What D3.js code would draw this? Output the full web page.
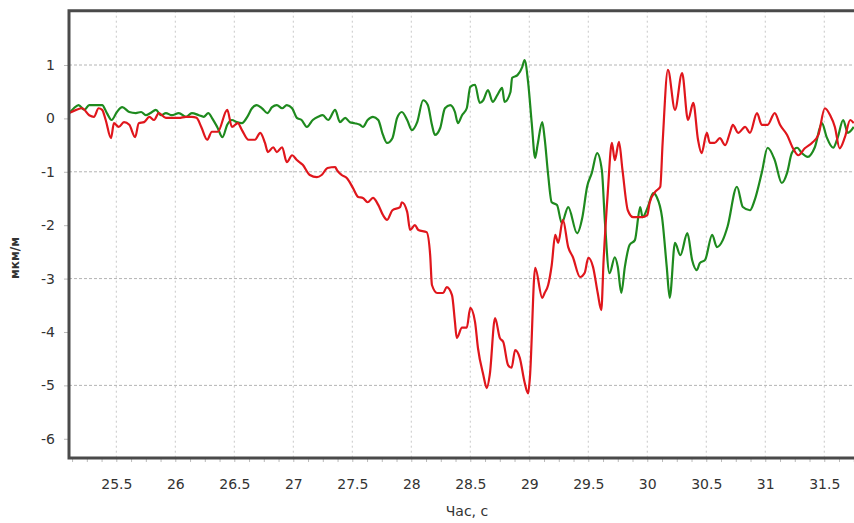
<!DOCTYPE html>
<html>
<head>
<meta charset="utf-8">
<script src="https://cdn.jsdelivr.net/npm/d3@7/dist/d3.min.js"></script>
<style>
    html, body { margin: 0; padding: 0; background: #fff; }
    svg { display: block; }
    .tick-label { font-family: "DejaVu Sans", sans-serif; font-size: 14px; fill: #333; }
    .axis-title { font-family: "DejaVu Sans", sans-serif; font-size: 14px; fill: #333; }
    .y-title { font-family: "DejaVu Sans", sans-serif; font-size: 12px; font-weight: bold; fill: #333; }
</style>
</head>
<body>
<div id="chart"></div>
<script>
// --- Data (time in s, strain in мкм/м) ---
var redTime = [25.10, 25.16, 25.21, 25.27, 25.31, 25.35, 25.38, 25.41, 25.455, 25.48,
    25.52, 25.565, 25.61, 25.66, 25.69, 25.735, 25.78, 25.82, 25.86, 25.92,
    25.97, 26.03, 26.09, 26.14, 26.18, 26.22, 26.27, 26.31, 26.36, 26.44,
    26.48, 26.53, 26.565, 26.62, 26.675, 26.72, 26.76, 26.785, 26.83, 26.86,
    26.905, 26.945, 26.99, 27.03, 27.08, 27.14, 27.20, 27.24, 27.29, 27.355,
    27.37, 27.41, 27.455, 27.505, 27.55, 27.59, 27.63, 27.675, 27.72, 27.76,
    27.795, 27.84, 27.905, 27.92, 27.965, 27.99, 28.03, 28.06, 28.13, 28.16,
    28.175, 28.22, 28.27, 28.30, 28.345, 28.37, 28.385, 28.43, 28.47, 28.50,
    28.54, 28.565, 28.61, 28.64, 28.665, 28.71, 28.75, 28.78, 28.82, 28.85,
    28.88, 28.92, 28.96, 28.99, 29.005, 29.05, 29.11, 29.13, 29.16, 29.19,
    29.22, 29.245, 29.285, 29.33, 29.37, 29.43, 29.47, 29.50, 29.54, 29.58,
    29.61, 29.63, 29.665, 29.70, 29.725, 29.76, 29.79, 29.835, 29.88, 29.955,
    30.00, 30.02, 30.065, 30.11, 30.13, 30.175, 30.235, 30.295, 30.345, 30.39,
    30.43, 30.46, 30.505, 30.53, 30.57, 30.615, 30.66, 30.70, 30.725, 30.77,
    30.83, 30.87, 30.93, 30.97, 31.02, 31.08, 31.125, 31.185, 31.235, 31.28,
    31.335, 31.395, 31.45, 31.505, 31.55, 31.59, 31.63, 31.675, 31.72, 31.75];
var redValue = [0.10, 0.16, 0.19, 0.06, 0.03, 0.19, 0.16, -0.03, -0.37, -0.09,
    -0.16, -0.07, -0.12, -0.35, -0.09, -0.07, 0.03, -0.03, 0.10, 0.01,
    0.01, 0.01, 0.03, 0.03, 0.01, -0.16, -0.40, -0.25, -0.25, 0.16,
    -0.16, -0.09, -0.22, -0.40, -0.40, -0.27, -0.46, -0.63, -0.54, -0.63,
    -0.54, -0.82, -0.69, -0.78, -0.87, -1.06, -1.10, -1.06, -0.93, -0.91,
    -0.97, -1.06, -1.12, -1.30, -1.47, -1.49, -1.57, -1.49, -1.62, -1.81,
    -1.90, -1.72, -1.66, -1.57, -1.75, -2.09, -2.00, -2.09, -2.13, -2.56,
    -3.12, -3.27, -3.27, -3.16, -3.31, -3.81, -4.11, -3.92, -3.92, -3.55,
    -3.81, -4.30, -4.80, -5.05, -4.80, -3.74, -4.11, -4.19, -4.62, -4.67,
    -4.34, -4.49, -4.94, -5.15, -4.86, -2.80, -3.36, -3.27, -3.12, -2.75,
    -2.18, -2.33, -1.90, -2.41, -2.60, -2.97, -2.89, -2.61, -2.78, -3.27,
    -3.59, -2.65, -1.40, -0.46, -0.78, -0.44, -0.97, -1.72, -1.85, -1.85,
    -1.81, -1.58, -1.38, -1.28, -0.46, 0.91, 0.16, 0.85, -0.03, 0.29,
    -0.40, -0.65, -0.27, -0.46, -0.46, -0.37, -0.50, -0.27, -0.12, -0.27,
    -0.16, -0.27, 0.10, -0.12, -0.12, 0.10, -0.12, -0.31, -0.56, -0.69,
    -0.56, -0.46, -0.31, 0.19, 0.06, -0.16, -0.56, -0.35, -0.03, -0.09];

var greenTime = [25.10, 25.14, 25.18, 25.23, 25.27, 25.33, 25.38, 25.42, 25.46, 25.505,
    25.55, 25.61, 25.665, 25.71, 25.75, 25.79, 25.835, 25.88, 25.92, 25.97,
    26.03, 26.09, 26.14, 26.20, 26.24, 26.28, 26.31, 26.355, 26.40, 26.44,
    26.48, 26.52, 26.565, 26.61, 26.65, 26.69, 26.735, 26.78, 26.82, 26.86,
    26.905, 26.945, 26.99, 27.03, 27.07, 27.115, 27.165, 27.21, 27.25, 27.295,
    27.355, 27.395, 27.44, 27.48, 27.52, 27.565, 27.59, 27.63, 27.675, 27.72,
    27.76, 27.795, 27.84, 27.88, 27.92, 27.965, 28.005, 28.05, 28.10, 28.14,
    28.175, 28.20, 28.245, 28.285, 28.33, 28.37, 28.395, 28.43, 28.47, 28.50,
    28.54, 28.58, 28.61, 28.65, 28.69, 28.73, 28.77, 28.79, 28.84, 28.855,
    28.90, 28.94, 28.96, 28.99, 29.02, 29.05, 29.07, 29.11, 29.13, 29.16,
    29.19, 29.235, 29.275, 29.33, 29.405, 29.45, 29.49, 29.53, 29.575, 29.615,
    29.64, 29.68, 29.725, 29.75, 29.78, 29.81, 29.85, 29.895, 29.94, 29.96,
    30.005, 30.05, 30.08, 30.125, 30.165, 30.19, 30.235, 30.28, 30.34, 30.38,
    30.42, 30.445, 30.49, 30.55, 30.59, 30.64, 30.68, 30.76, 30.81, 30.87,
    30.91, 30.97, 31.02, 31.08, 31.14, 31.185, 31.225, 31.27, 31.31, 31.36,
    31.42, 31.48, 31.52, 31.575, 31.615, 31.66, 31.70, 31.75];
var greenValue = [0.10, 0.19, 0.25, 0.16, 0.25, 0.25, 0.25, 0.10, -0.03, 0.12,
    0.21, 0.12, 0.10, 0.12, 0.06, 0.10, 0.16, 0.06, 0.10, 0.06,
    0.10, 0.03, 0.10, 0.06, 0.03, 0.10, 0.01, -0.16, -0.35, -0.12,
    -0.03, -0.07, -0.09, 0.03, 0.19, 0.25, 0.19, 0.10, 0.21, 0.25,
    0.19, 0.25, 0.19, 0.01, -0.03, -0.16, -0.03, 0.03, 0.06, -0.03,
    0.16, -0.07, 0.01, -0.07, -0.09, -0.12, -0.16, -0.03, 0.03, -0.03,
    -0.31, -0.46, -0.37, 0.01, 0.12, -0.03, -0.22, -0.07, 0.34, 0.25,
    -0.12, -0.31, -0.18, 0.19, 0.25, 0.12, -0.09, 0.06, 0.19, 0.59,
    0.63, 0.29, 0.34, 0.53, 0.31, 0.44, 0.57, 0.31, 0.49, 0.76,
    0.81, 0.96, 1.09, 0.68, -0.07, -0.74, -0.50, -0.07, -0.37, -1.06,
    -1.57, -1.62, -1.96, -1.66, -2.15, -1.85, -1.28, -1.02, -0.65, -0.97,
    -1.90, -2.90, -2.60, -2.78, -3.27, -2.78, -2.37, -2.28, -1.66, -1.85,
    -1.66, -1.40, -1.47, -1.85, -2.78, -3.36, -2.33, -2.56, -2.15, -2.65,
    -2.84, -2.71, -2.65, -2.18, -2.41, -2.28, -2.03, -1.28, -1.66, -1.72,
    -1.53, -1.02, -0.55, -0.78, -1.21, -1.02, -0.65, -0.55, -0.65, -0.72,
    -0.54, -0.09, -0.35, -0.55, -0.35, -0.03, -0.27, -0.16];

// --- Axis ticks ---
var xTicks = [25.5, 26, 26.5, 27, 27.5, 28, 28.5, 29, 29.5, 30, 30.5, 31, 31.5];
var yTicks = [1, 0, -1, -2, -3, -4, -5, -6];
var yGridTicks = [1, -1, -3, -5];
var xDomain = [25.099, 31.752];
var yDomain = [2.017, -6.36];

(function () {
    "use strict";

    var W = 854, H = 523;
    var left = 69, top = 10.7, right = 854, bottom = 458;

    var svg = d3.select("#chart").append("svg")
        .attr("width", W)
        .attr("height", H);

    var x = d3.scaleLinear().domain(xDomain).range([left, right]);
    var y = d3.scaleLinear().domain(yDomain).range([top, bottom]);

    // plain "26", "-1" labels, like the source chart
    var plain = function (d) { return String(d); };

    // Clip for the plotted lines
    svg.append("clipPath").attr("id", "plot-clip")
        .append("rect")
        .attr("x", left).attr("y", top)
        .attr("width", right - left).attr("height", bottom - top);

    // --- Grid ---
    svg.append("g").selectAll("line")
        .data(xTicks)
        .enter().append("line")
        .attr("x1", function (d) { return x(d); })
        .attr("x2", function (d) { return x(d); })
        .attr("y1", top).attr("y2", bottom)
        .attr("stroke", "#c8c8c8")
        .attr("stroke-width", 1)
        .attr("stroke-dasharray", "2,3");

    svg.append("g").selectAll("line")
        .data(yGridTicks)
        .enter().append("line")
        .attr("x1", left).attr("x2", right)
        .attr("y1", function (d) { return y(d); })
        .attr("y2", function (d) { return y(d); })
        .attr("stroke", "#b4b4b4")
        .attr("stroke-width", 1)
        .attr("stroke-dasharray", "3,2");

    // --- Series ---
    var line = d3.line()
        .x(function (d) { return x(d[0]); })
        .y(function (d) { return y(d[1]); })
        .curve(d3.curveMonotoneX);

    function series(times, values) {
        return times.map(function (t, i) { return [t, values[i]]; });
    }

    var plot = svg.append("g").attr("clip-path", "url(#plot-clip)");

    plot.append("path")
        .datum(series(greenTime, greenValue))
        .attr("d", line)
        .attr("fill", "none")
        .attr("stroke", "#1e8a1e")
        .attr("stroke-width", 2.2)
        .attr("stroke-linejoin", "round");

    plot.append("path")
        .datum(series(redTime, redValue))
        .attr("d", line)
        .attr("fill", "none")
        .attr("stroke", "#e0161c")
        .attr("stroke-width", 2.2)
        .attr("stroke-linejoin", "round");

    // --- Axes ---
    var xAxis = svg.append("g")
        .attr("transform", "translate(0," + bottom + ")")
        .call(d3.axisBottom(x).tickValues(d3.range(25.125, 31.76, 0.125)).tickSize(4).tickFormat(""));
    xAxis.select(".domain").remove();
    xAxis.selectAll(".tick line").attr("stroke", "#bbb");

    var xLabels = svg.append("g")
        .attr("transform", "translate(0," + bottom + ")")
        .call(d3.axisBottom(x).tickValues(xTicks).tickSize(0).tickPadding(21).tickFormat(plain));
    xLabels.select(".domain").remove();
    xLabels.selectAll("text").attr("class", "tick-label").attr("font-family", null).attr("font-size", null);

    var yAxis = svg.append("g")
        .attr("transform", "translate(" + left + ",0)")
        .call(d3.axisLeft(y).tickValues(yTicks).tickSize(5).tickPadding(9).tickFormat(plain));
    yAxis.select(".domain").remove();
    yAxis.selectAll(".tick line").attr("stroke", "#bbb");
    yAxis.selectAll("text").attr("class", "tick-label").attr("font-family", null).attr("font-size", null);

    // Frame: left, top and bottom borders
    svg.append("path")
        .attr("d", "M" + right + "," + top + "H" + left + "V" + bottom + "H" + right)
        .attr("fill", "none")
        .attr("stroke", "#4a4a4a")
        .attr("stroke-width", 3);

    // --- Titles ---
    svg.append("text")
        .attr("class", "axis-title")
        .attr("x", 467).attr("y", 516)
        .attr("text-anchor", "middle")
        .text("Час, с");

    svg.append("text")
        .attr("class", "y-title")
        .attr("transform", "translate(19,258) rotate(-90)")
        .attr("text-anchor", "middle")
        .text("мкм/м");
})();
</script>
</body>
</html>
